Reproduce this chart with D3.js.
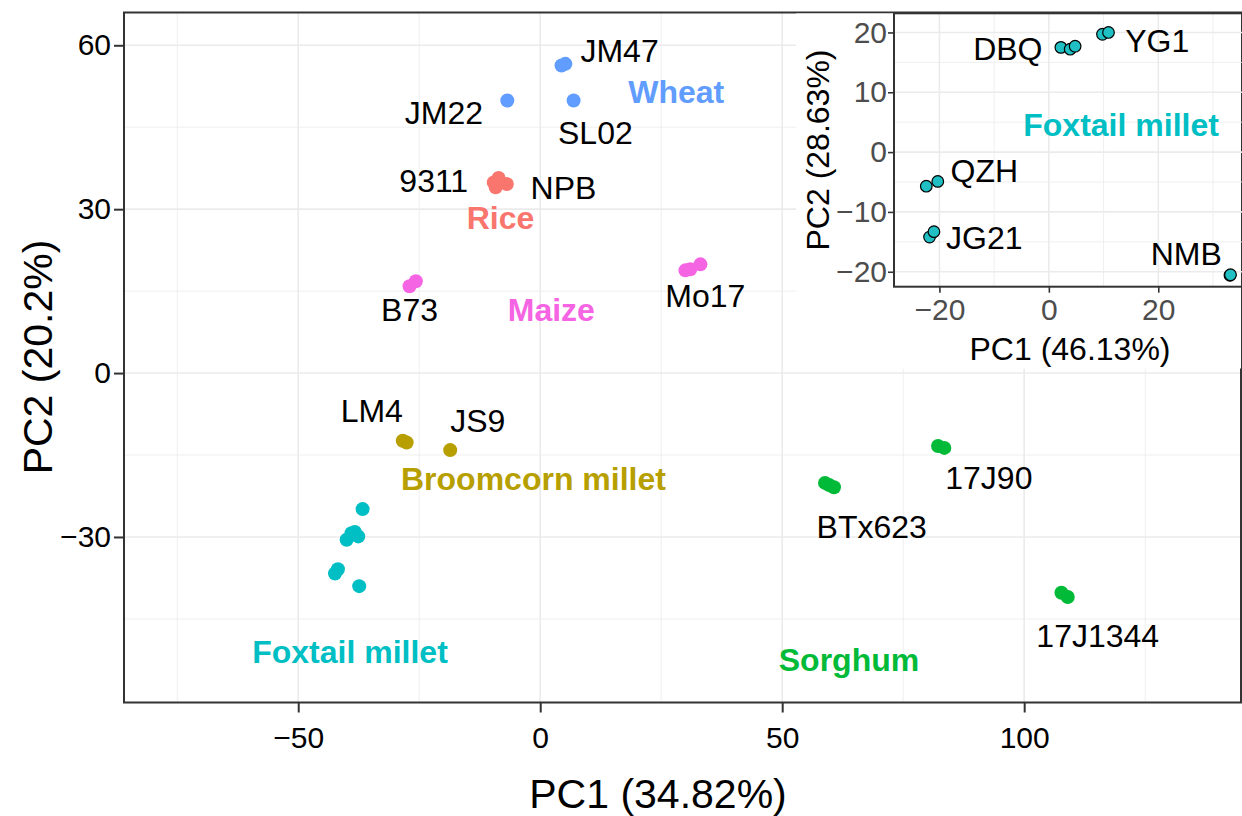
<!DOCTYPE html>
<html>
<head>
<meta charset="utf-8">
<script src="https://cdn.jsdelivr.net/npm/d3@7"></script>
<style>
  body { margin: 0; background: #fff; }
  svg { font-family: "Liberation Sans", Arial, sans-serif; display: block; }
</style>
</head>
<body>
<svg id="chart" width="1242" height="816"></svg>
<script>
// groups + colours (ggplot default hue)
var groups = ["Rice", "Broomcorn millet", "Sorghum", "Foxtail millet", "Wheat", "Maize"];
var groupColors = ["#F8766D", "#B79F00", "#00BA38", "#00BFC4", "#619CFF", "#F564E3"];

// main PCA points: [group, PC1, PC2]
var mainPoints = [
    ["Wheat", -6.8, 49.9], ["Wheat", 4.4, 56.3], ["Wheat", 5.2, 56.6], ["Wheat", 6.9, 49.9],
    ["Rice", -9.6, 34.9], ["Rice", -8.6, 35.7], ["Rice", -9.2, 34.0], ["Rice", -6.9, 34.6],
    ["Maize", -27.0, 15.9], ["Maize", -25.7, 16.8], ["Maize", 30.0, 18.8], ["Maize", 31.0, 19.0], ["Maize", 33.1, 19.9],
    ["Broomcorn millet", -28.4, -12.4], ["Broomcorn millet", -27.6, -12.7], ["Broomcorn millet", -18.6, -14.1],
    ["Foxtail millet", -36.7, -24.9], ["Foxtail millet", -40.0, -30.5], ["Foxtail millet", -39.0, -29.3],
    ["Foxtail millet", -37.6, -29.9], ["Foxtail millet", -38.3, -29.1], ["Foxtail millet", -42.4, -36.7],
    ["Foxtail millet", -41.8, -35.9], ["Foxtail millet", -37.4, -39.0],
    ["Sorghum", 58.85, -20.1], ["Sorghum", 59.7, -20.5], ["Sorghum", 60.7, -20.9],
    ["Sorghum", 82.2, -13.35], ["Sorghum", 83.5, -13.7],
    ["Sorghum", 107.7, -40.2], ["Sorghum", 109.0, -41.0]
];

// accession labels [name, PC1, PC2]
var mainLabels = [
    ["JM47", 16.4, 58.9], ["JM22", -19.9, 47.6], ["SL02", 11.4, 43.9],
    ["9311", -22.0, 35.1], ["NPB", 4.8, 33.8], ["B73", -27.0, 11.5], ["Mo17", 34.1, 14.1],
    ["LM4", -34.8, -7.0], ["JS9", -12.9, -8.8],
    ["17J90", 92.7, -19.2], ["BTx623", 68.5, -28.2], ["17J1344", 115.2, -48.1]
];

// group labels [group, PC1, PC2]
var groupLabels = [
    ["Wheat", 28.1, 51.4], ["Rice", -8.2, 28.4], ["Maize", 2.3, 11.5],
    ["Broomcorn millet", -1.4, -19.4], ["Foxtail millet", -39.3, -51.0], ["Sorghum", 63.8, -52.5]
];

// inset: foxtail millet only
var insetPoints = [
    [2.2, 17.5], [3.9, 17.2], [4.8, 17.7],
    [9.8, 19.7], [10.9, 20.0],
    [-22.4, -5.7], [-20.3, -4.9],
    [-21.8, -14.2], [-21.0, -13.3],
    [33.1, -20.6], [33.2, -20.5]
];
var insetLabels = [
    ["DBQ", -7.5, 17.2], ["YG1", 19.8, 18.5], ["QZH", -11.8, -3.2],
    ["JG21", -11.8, -14.3], ["NMB", 25.1, -17.1]
];

var mainXTicks = [-50, 0, 50, 100];
var mainYTicks = [-30, 0, 30, 60];
var insetXTicks = [-20, 0, 20];
var insetYTicks = [-20, -10, 0, 10, 20];

var svg = d3.select("#chart");
var color = d3.scaleOrdinal().domain(groups).range(groupColors);
var fmt = function (d) { return d < 0 ? "\u2212" + Math.abs(d) : "" + d; };

// ---- main panel ----
var x = d3.scaleLinear().domain([-86, 144.8]).range([124, 1241]);
var y = d3.scaleLinear().domain([-60.3, 66]).range([702.5, 12.5]);

var g = svg.append("g");
var minorX = [-75, -25, 25, 75, 125], minorY = [-45, -15, 15, 45];

g.selectAll(".mnx").data(minorX).enter().append("line")
    .attr("x1", x).attr("x2", x).attr("y1", y.range()[0]).attr("y2", y.range()[1])
    .attr("stroke", "#EBEBEB").attr("stroke-width", 0.8);
g.selectAll(".mny").data(minorY).enter().append("line")
    .attr("y1", y).attr("y2", y).attr("x1", x.range()[0]).attr("x2", x.range()[1])
    .attr("stroke", "#EBEBEB").attr("stroke-width", 0.8);
g.selectAll(".mjx").data(mainXTicks).enter().append("line")
    .attr("x1", x).attr("x2", x).attr("y1", y.range()[0]).attr("y2", y.range()[1])
    .attr("stroke", "#EBEBEB").attr("stroke-width", 1.6);
g.selectAll(".mjy").data(mainYTicks).enter().append("line")
    .attr("y1", y).attr("y2", y).attr("x1", x.range()[0]).attr("x2", x.range()[1])
    .attr("stroke", "#EBEBEB").attr("stroke-width", 1.6);

g.selectAll("circle.pt").data(mainPoints).enter().append("circle")
    .attr("cx", function (d) { return x(d[1]); })
    .attr("cy", function (d) { return y(d[2]); })
    .attr("r", 7)
    .attr("fill", function (d) { return color(d[0]); });

g.selectAll("text.lab").data(mainLabels).enter().append("text")
    .attr("x", function (d) { return x(d[1]); })
    .attr("y", function (d) { return y(d[2]); })
    .attr("text-anchor", "middle").attr("dominant-baseline", "central")
    .attr("font-size", 32).attr("fill", "#000")
    .text(function (d) { return d[0]; });

g.selectAll("text.grp").data(groupLabels).enter().append("text")
    .attr("x", function (d) { return x(d[1]); })
    .attr("y", function (d) { return y(d[2]); })
    .attr("text-anchor", "middle").attr("dominant-baseline", "central")
    .attr("font-size", 32).attr("font-weight", "bold")
    .attr("fill", function (d) { return color(d[0]); })
    .text(function (d) { return d[0]; });

// axes
var xAxis = g.append("g").attr("transform", "translate(0,702.5)")
    .call(d3.axisBottom(x).tickValues(mainXTicks).tickSize(10).tickPadding(14).tickFormat(fmt));
var yAxis = g.append("g").attr("transform", "translate(124,0)")
    .call(d3.axisLeft(y).tickValues(mainYTicks).tickSize(10).tickPadding(3).tickFormat(fmt));
[xAxis, yAxis].forEach(function (a) {
    a.select(".domain").remove();
    a.selectAll(".tick line").attr("stroke", "#333").attr("stroke-width", 2);
    a.selectAll(".tick text").attr("font-size", 30).attr("fill", "#000")
        .attr("font-family", "Liberation Sans, Arial, sans-serif");
});

g.append("rect").attr("x", 124).attr("y", 12.5).attr("width", 1117).attr("height", 690)
    .attr("fill", "none").attr("stroke", "#333").attr("stroke-width", 2);

g.append("text").attr("x", 658).attr("y", 794).attr("text-anchor", "middle")
    .attr("dominant-baseline", "central").attr("font-size", 41).text("PC1 (34.82%)");
g.append("text").attr("transform", "translate(38,357) rotate(-90)").attr("text-anchor", "middle")
    .attr("dominant-baseline", "central").attr("font-size", 41).text("PC2 (20.2%)");

// ---- inset ----
var ix = d3.scaleLinear().domain([-28.3, 35.3]).range([894, 1242]);
var iy = d3.scaleLinear().domain([-22.5, 23.2]).range([286.7, 13.3]);
var ig = svg.append("g");

ig.append("rect").attr("x", 796).attr("y", 13.5).attr("width", 445).attr("height", 355).attr("fill", "#fff");

var iMinorX = [-10, 10, 30], iMinorY = [-15, -5, 5, 15];
ig.selectAll(".imx").data(iMinorX).enter().append("line")
    .attr("x1", ix).attr("x2", ix).attr("y1", iy.range()[0]).attr("y2", iy.range()[1])
    .attr("stroke", "#EBEBEB").attr("stroke-width", 0.8);
ig.selectAll(".imy").data(iMinorY).enter().append("line")
    .attr("y1", iy).attr("y2", iy).attr("x1", ix.range()[0]).attr("x2", ix.range()[1])
    .attr("stroke", "#EBEBEB").attr("stroke-width", 0.8);
ig.selectAll(".ijx").data(insetXTicks).enter().append("line")
    .attr("x1", ix).attr("x2", ix).attr("y1", iy.range()[0]).attr("y2", iy.range()[1])
    .attr("stroke", "#EBEBEB").attr("stroke-width", 1.6);
ig.selectAll(".ijy").data(insetYTicks).enter().append("line")
    .attr("y1", iy).attr("y2", iy).attr("x1", ix.range()[0]).attr("x2", ix.range()[1])
    .attr("stroke", "#EBEBEB").attr("stroke-width", 1.6);

ig.selectAll("circle").data(insetPoints).enter().append("circle")
    .attr("cx", function (d) { return ix(d[0]); })
    .attr("cy", function (d) { return iy(d[1]); })
    .attr("r", 5.8).attr("fill", "#1FBFC4").attr("stroke", "#000").attr("stroke-width", 1.2);

ig.selectAll("text.ilab").data(insetLabels).enter().append("text")
    .attr("x", function (d) { return ix(d[1]); })
    .attr("y", function (d) { return iy(d[2]); })
    .attr("text-anchor", "middle").attr("dominant-baseline", "central")
    .attr("font-size", 32).text(function (d) { return d[0]; });

ig.append("text").attr("x", ix(13.2)).attr("y", iy(4.5))
    .attr("text-anchor", "middle").attr("dominant-baseline", "central")
    .attr("font-size", 32).attr("font-weight", "bold").attr("fill", color("Foxtail millet"))
    .text("Foxtail millet");

var ixAxis = ig.append("g").attr("transform", "translate(0,286.7)")
    .call(d3.axisBottom(ix).tickValues(insetXTicks).tickSize(6).tickPadding(6).tickFormat(fmt));
var iyAxis = ig.append("g").attr("transform", "translate(894,0)")
    .call(d3.axisLeft(iy).tickValues(insetYTicks).tickSize(6).tickPadding(1).tickFormat(fmt));
[ixAxis, iyAxis].forEach(function (a) {
    a.select(".domain").remove();
    a.selectAll(".tick line").attr("stroke", "#333").attr("stroke-width", 1.6);
    a.selectAll(".tick text").attr("font-size", 30).attr("fill", "#4D4D4D")
        .attr("font-family", "Liberation Sans, Arial, sans-serif");
});

ig.append("rect").attr("x", 894).attr("y", 13.3).attr("width", 350).attr("height", 273.4)
    .attr("fill", "none").attr("stroke", "#333").attr("stroke-width", 2);

ig.append("text").attr("x", 1070).attr("y", 349).attr("text-anchor", "middle")
    .attr("dominant-baseline", "central").attr("font-size", 32).text("PC1 (46.13%)");
ig.append("text").attr("transform", "translate(818,150) rotate(-90)").attr("text-anchor", "middle")
    .attr("dominant-baseline", "central").attr("font-size", 32).text("PC2 (28.63%)");
</script>
</body>
</html>
